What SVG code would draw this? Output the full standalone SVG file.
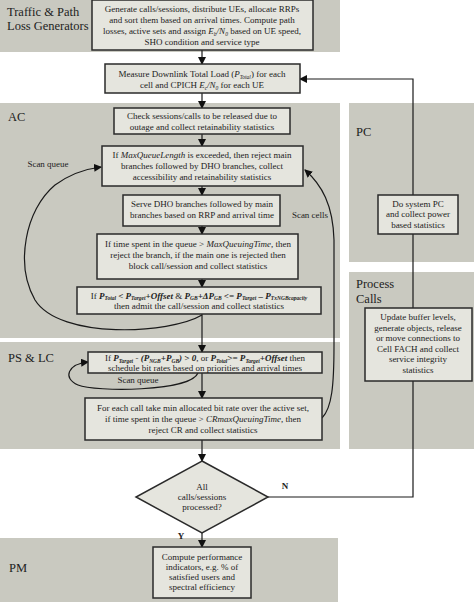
<svg xmlns="http://www.w3.org/2000/svg" width="474" height="602" viewBox="0 0 474 602">
<defs>
<marker id="ah" markerWidth="8" markerHeight="8" refX="7" refY="4" orient="auto" markerUnits="userSpaceOnUse">
<path d="M0,0 L8,4 L0,8 Z" fill="#111"/>
</marker>
<style>
.band{fill:#c9c9c0}
.box{fill:#e5e5de;stroke:#2a2a2a;stroke-width:1.5}
.t{font-family:"Liberation Serif",serif;font-size:9px;fill:#222;text-anchor:middle}
.lbl{font-family:"Liberation Serif",serif;font-size:12.5px;fill:#222}
.conn{fill:none;stroke:#1a1a1a;stroke-width:1.2}
.i{font-style:italic}
.b{font-weight:bold;font-style:italic}
.s{font-size:5.5px}
</style>
</defs>
<rect width="474" height="602" fill="#fff"/>
<g id="bands">
<rect class="band" x="0" y="0" width="340" height="52"/>
<rect class="band" x="0" y="103" width="340" height="235"/>
<rect class="band" x="0" y="342" width="340" height="107"/>
<rect class="band" x="0" y="538" width="338" height="64"/>
<rect class="band" x="349" y="103" width="125" height="159"/>
<rect class="band" x="349" y="272" width="125" height="177"/>
<text class="lbl" x="7" y="16">Traffic &amp; Path</text>
<text class="lbl" x="7" y="30">Loss Generators</text>
<text class="lbl" x="8" y="121">AC</text>
<text class="lbl" x="8" y="362">PS &amp; LC</text>
<text class="lbl" x="9" y="572">PM</text>
<text class="lbl" x="356" y="136">PC</text>
<text class="lbl" x="356" y="288">Process</text>
<text class="lbl" x="356" y="303">Calls</text>
</g>
<g id="connectors">
<line class="conn" x1="202" y1="50" x2="202" y2="64" marker-end="url(#ah)"/>
<line class="conn" x1="202" y1="93" x2="202" y2="108" marker-end="url(#ah)"/>
<line class="conn" x1="202" y1="134" x2="202" y2="146" marker-end="url(#ah)"/>
<line class="conn" x1="202" y1="186" x2="202" y2="195" marker-end="url(#ah)"/>
<line class="conn" x1="202" y1="226" x2="202" y2="234" marker-end="url(#ah)"/>
<line class="conn" x1="202" y1="279" x2="202" y2="287" marker-end="url(#ah)"/>
<line class="conn" x1="202" y1="314" x2="202" y2="352" marker-end="url(#ah)"/>
<line class="conn" x1="202" y1="373" x2="202" y2="398" marker-end="url(#ah)"/>
<line class="conn" x1="202" y1="440" x2="202" y2="461" marker-end="url(#ah)"/>
<line class="conn" x1="202" y1="533" x2="202" y2="547" marker-end="url(#ah)"/>
<polyline class="conn" points="268,497 413,497 413,79 300,79" marker-end="url(#ah)"/>
<path class="conn" d="M202,315 C170,334 60,340 35,300 C15,265 25,210 55,185 C70,174 85,169 101,167" marker-end="url(#ah)"/>
<path class="conn" d="M322,418 C332,408 334,385 334,345 L334,240 C333,205 322,185 305,170" marker-end="url(#ah)"/>
<path class="conn" d="M198,373 C190,392 95,392 78,385 C62,378 68,364 88,362" marker-end="url(#ah)"/>
<text class="t" x="138" y="383">Scan queue</text>
<text class="t" x="48" y="167">Scan queue</text>
<text class="t" x="310" y="218">Scan cells</text>
<text class="t" x="285" y="489" font-weight="bold">N</text>
<text class="t" x="181" y="539" font-weight="bold">Y</text>
</g>
<g id="gen">
<rect class="box" x="92" y="0" width="221" height="50"/>
<text class="t" x="202" y="12">Generate calls/sessions, distribute UEs, allocate RRPs</text>
<text class="t" x="202" y="23">and sort them based on arrival times. Compute path</text>
<text class="t" x="202" y="34">losses, active sets and assign <tspan class="i">E</tspan><tspan class="s i" dy="2">b</tspan><tspan class="i" dy="-2">/N</tspan><tspan class="s i" dy="2">0</tspan><tspan dy="-2"> based on UE speed,</tspan></text>
<text class="t" x="202" y="45">SHO condition and service type</text>
</g>
<g id="measure">
<rect class="box" x="105" y="64" width="195" height="29"/>
<text class="t" x="202" y="77">Measure Downlink Total Load (<tspan class="i">P</tspan><tspan class="s i" dy="2">Total</tspan><tspan dy="-2">) for each</tspan></text>
<text class="t" x="202" y="88">cell and CPICH <tspan class="i">E</tspan><tspan class="s i" dy="2">c</tspan><tspan class="i" dy="-2">/N</tspan><tspan class="s i" dy="2">0</tspan><tspan dy="-2"> for each UE</tspan></text>
</g>
<g id="check">
<rect class="box" x="114" y="108" width="176" height="26"/>
<text class="t" x="202" y="119">Check sessions/calls to be released due to</text>
<text class="t" x="202" y="130">outage and collect retainability statistics</text>
</g>
<g id="maxqueue">
<rect class="box" x="102" y="146" width="201" height="40"/>
<text class="t" x="202" y="158">If <tspan class="i">MaxQueueLength</tspan> is exceeded, then reject main</text>
<text class="t" x="202" y="169">branches followed by DHO branches, collect</text>
<text class="t" x="202" y="180">accessibility and retainability statistics</text>
</g>
<g id="serve">
<rect class="box" x="123" y="195" width="157" height="31"/>
<text class="t" x="202" y="207">Serve DHO branches followed by main</text>
<text class="t" x="202" y="218">branches based on RRP and arrival time</text>
</g>
<g id="timespent">
<rect class="box" x="97" y="234" width="201" height="45"/>
<text class="t" x="198" y="247">If time spent in the queue &gt; <tspan class="i">MaxQueuingTime</tspan>, then</text>
<text class="t" x="198" y="258">reject the branch, if the main one is rejected then</text>
<text class="t" x="198" y="269">block call/session and collect statistics</text>
</g>
<g id="admit">
<rect class="box" x="77" y="287" width="244" height="27"/>
<text class="t" x="199" y="298.5">If <tspan class="b">P</tspan><tspan class="s b" dy="1.5">Total</tspan><tspan class="b" dy="-1.5"> &lt; P</tspan><tspan class="s b" dy="1.5">Target</tspan><tspan class="b" dy="-1.5">+Offset</tspan> &amp; <tspan class="b">P</tspan><tspan class="s b" dy="1.5">GB</tspan><tspan class="b" dy="-1.5">+ΔP</tspan><tspan class="s b" dy="1.5">GB</tspan><tspan class="b" dy="-1.5"> &lt;= P</tspan><tspan class="s b" dy="1.5">Target</tspan><tspan class="b" dy="-1.5"> – P</tspan><tspan class="s b" dy="1.5">TxNGBcapacity</tspan></text>
<text class="t" x="199" y="309">then admit the call/session and collect statistics</text>
</g>
<g id="schedule">
<rect class="box" x="88" y="352" width="234" height="21"/>
<text class="t" x="205" y="361">If <tspan class="b">P</tspan><tspan class="s b" dy="1.5">Target</tspan><tspan class="b" dy="-1.5"> - (P</tspan><tspan class="s b" dy="1.5">NGB</tspan><tspan class="b" dy="-1.5">+P</tspan><tspan class="s b" dy="1.5">GB</tspan><tspan class="b" dy="-1.5">) &gt; 0</tspan>, or <tspan class="b">P</tspan><tspan class="s b" dy="1.5">Total</tspan><tspan class="b" dy="-1.5">&gt;= P</tspan><tspan class="s b" dy="1.5">Target</tspan><tspan class="b" dy="-1.5">+Offset</tspan> then</text>
<text class="t" x="205" y="370.5">schedule bit rates based on priorities and arrival times</text>
</g>
<g id="minrate">
<rect class="box" x="85" y="398" width="237" height="42"/>
<text class="t" x="203" y="411">For each call take min allocated bit rate over the active set,</text>
<text class="t" x="203" y="422">if time spent in the queue &gt; <tspan class="i">CRmaxQueuingTime</tspan>, then</text>
<text class="t" x="203" y="433">reject CR and collect statistics</text>
</g>
<g id="decision">
<polygon class="box" points="202,461 268,497 202,533 136,497"/>
<text class="t" x="202" y="490" font-size="8.5">All</text>
<text class="t" x="202" y="500" font-size="8.5">calls/sessions</text>
<text class="t" x="202" y="510" font-size="8.5">processed?</text>
</g>
<g id="pm">
<rect class="box" x="153" y="547" width="98" height="51"/>
<text class="t" x="202" y="560">Compute performance</text>
<text class="t" x="202" y="570">indicators, e.g. % of</text>
<text class="t" x="202" y="580">satisfied users and</text>
<text class="t" x="202" y="590">spectral efficiency</text>
</g>
<g id="pc">
<rect class="box" x="378" y="195" width="80" height="39"/>
<text class="t" x="418" y="207">Do system PC</text>
<text class="t" x="418" y="217">and collect power</text>
<text class="t" x="418" y="228">based statistics</text>
</g>
<g id="process">
<rect class="box" x="365" y="308" width="107" height="73"/>
<text class="t" x="418" y="320">Update buffer levels,</text>
<text class="t" x="418" y="331">generate objects, release</text>
<text class="t" x="418" y="341">or move connections to</text>
<text class="t" x="418" y="352">Cell FACH and collect</text>
<text class="t" x="418" y="362">service integrity</text>
<text class="t" x="418" y="373">statistics</text>
</g>
</svg>
